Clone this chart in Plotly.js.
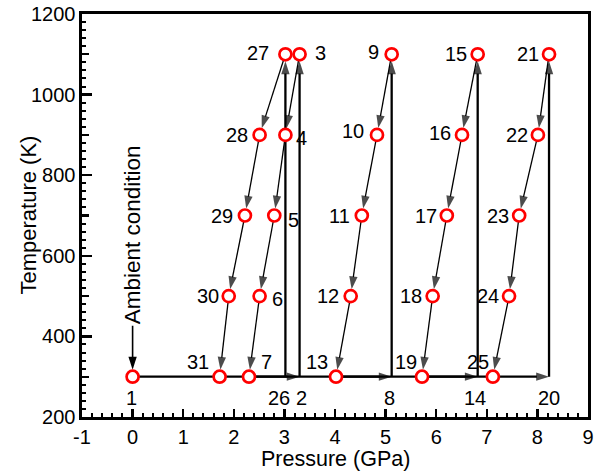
<!DOCTYPE html>
<html><head><meta charset="utf-8">
<script src="https://cdn.plot.ly/plotly-3.0.1.min.js"></script>
<style>html,body{margin:0;padding:0;background:#fff}</style>
</head><body><div id="chart" style="width:598px;height:472px"></div>
<script>
// ---- data ----
const pointIds = [1,2,3,4,5,6,7,8,9,10,11,12,13,14,15,16,17,18,19,20,21,22,23,24,25,26,27,28,29,30,31];
const pressure = [0.00,3.30,3.30,3.02,2.80,2.51,2.30,5.12,5.12,4.83,4.53,4.31,4.02,6.82,6.82,6.51,6.21,5.93,5.72,8.23,8.23,8.01,7.64,7.44,7.12,3.02,3.02,2.51,2.22,1.90,1.72];
const temperature = [300,300,1100,900,700,500,300,300,1100,900,700,500,300,300,1100,900,700,500,300,300,1100,900,700,500,300,300,1100,900,700,500,300];
const circledPoints = [1,3,4,5,6,7,9,10,11,12,13,15,16,17,18,19,21,22,23,24,25,27,28,29,30,31];
const isobaricSteps = [[1,2],[7,8],[13,14],[19,20]];
const heatingSteps = [[2,3],[8,9],[14,15],[20,21],[26,27]];
const coolingSteps = [[3,4],[4,5],[5,6],[6,7],[9,10],[10,11],[11,12],[12,13],[15,16],[16,17],[17,18],[18,19],[21,22],[22,23],[23,24],[24,25],[27,28],[28,29],[29,30],[30,31]];
const xTickVals = [-1,0,1,2,3,4,5,6,7,8,9];
const xTickLabels = ["-1","0","1","2","3","4","5","6","7","8","9"];
const yTickVals = [200,400,600,800,1000,1200];
const yTickLabels = ["200","400","600","800","1000","1200"];
const annotationText = "Ambient condition";
const xTitle = "Pressure (GPa)";
const yTitle = "Temperature (K)";

// ---- styles ----
const FONT = "Liberation Sans, Arial, Helvetica, sans-serif";
const CIRCLE_R = 7;
// label offsets in px [dx, dy(up)] per point id
const labelOffsets = {
 1:[-1,-21],2:[2,-21],3:[21,1],4:[16,-3],5:[19,-4],6:[18,-3],7:[18,15],
 8:[-2,-21],9:[-18,2],10:[-24,4],11:[-22,0],12:[-23,0],13:[-19,15],
 14:[-3,-21],15:[-22,0],16:[-22,2],17:[-21,0],18:[-22,0],19:[-16,15],
 20:[0,-21],21:[-21,0],22:[-21,0],23:[-21,0],24:[-21,0],25:[-15,15],
 26:[-6,-21],27:[-27,1],28:[-23,0],29:[-23,0],30:[-21,0],31:[-22,15]
};

const idx = id => pointIds.indexOf(id);
const traces = [];
function addSteps(steps, width) {
  steps.forEach(([a,b]) => {
    const ia = idx(a), ib = idx(b);
    const endCircled = circledPoints.includes(b);
    traces.push({
      type:'scatter', mode:'lines+markers',
      x:[pressure[ia], pressure[ib]], y:[temperature[ia], temperature[ib]],
      line:{color:'#000', width:width},
      marker:{symbol:'arrow', angleref:'previous', size:[0,13.5], color:'#000',
              line:{width:0}, standoff:[0, endCircled ? CIRCLE_R : 0]},
      hoverinfo:'skip', showlegend:false, cliponaxis:false
    });
  });
}
addSteps(isobaricSteps, 2.3);
addSteps(heatingSteps, 2.3);
addSteps(coolingSteps, 1.3);

// arrowhead for the "Ambient condition" pointer
traces.push({
  type:'scatter', mode:'markers',
  x:[pressure[0]], y:[temperature[0]],
  marker:{symbol:'arrow', angle:180, size:13.5, color:'#000', line:{width:0}, standoff:CIRCLE_R},
  hoverinfo:'skip', showlegend:false, cliponaxis:false
});

// circles
const cx = [], cy = [];
circledPoints.forEach(id => { cx.push(pressure[idx(id)]); cy.push(temperature[idx(id)]); });
traces.push({
  type:'scatter', mode:'markers', x:cx, y:cy,
  marker:{symbol:'circle', size:12, color:'#fff', line:{color:'#ff0000', width:2.7}},
  hoverinfo:'skip', showlegend:false, cliponaxis:false
});

// invisible trace to activate the medium-tick axis
traces.push({type:'scatter', mode:'markers', x:[pressure[0]], y:[temperature[0]], yaxis:'y2',
  marker:{opacity:0}, hoverinfo:'skip', showlegend:false});

const annotations = pointIds.map(id => ({
  x: pressure[idx(id)], y: temperature[idx(id)], text: String(id), showarrow:false,
  xshift: labelOffsets[id][0], yshift: labelOffsets[id][1],
  font:{family:FONT, size:20, color:'#000'}
}));
annotations.push({
  x: pressure[0], y: temperature[0], text: annotationText, textangle:-90,
  showarrow:true, arrowhead:0, arrowwidth:1.6, arrowcolor:'#000', ax:0, ay:-142,
  standoff:12, font:{family:FONT, size:22.5, color:'#000'}
});
// axis titles
annotations.push({
  xref:'paper', yref:'paper', x:0.5, y:0, xanchor:'center', yanchor:'top',
  yshift:-29, borderpad:0, text:xTitle, showarrow:false, font:{family:FONT, size:21.5, color:'#000'}
});
annotations.push({
  xref:'paper', yref:'paper', x:0, y:0.5, xanchor:'center', yanchor:'middle',
  xshift:-54, textangle:-90, text:yTitle, showarrow:false, font:{family:FONT, size:22, color:'#000'}
});

const axisCommon = {
  showgrid:false, zeroline:false, showline:true, linewidth:2.6, linecolor:'#000',
  mirror:true, ticks:'inside', tickwidth:2.4, tickcolor:'#000',
  tickfont:{family:FONT, size:20, color:'#000'}
};

const layout = {
  width:598, height:472,
  margin:{l:82, r:10, t:14, b:55},
  paper_bgcolor:'#fff', plot_bgcolor:'#fff',
  showlegend:false,
  xaxis: Object.assign({}, axisCommon, {
    range:[-1,9], tickmode:'array', tickvals:xTickVals, ticktext:xTickLabels, ticklen:8,
    minor:{dtick:0.2, tick0:-1, ticks:'inside', ticklen:4, tickwidth:2, tickcolor:'#000', showgrid:false}
  }),
  yaxis: Object.assign({}, axisCommon, {
    range:[200,1200], tickmode:'array', tickvals:yTickVals, ticktext:yTickLabels, ticklen:10,
    minor:{dtick:20, tick0:200, ticks:'inside', ticklen:4, tickwidth:2, tickcolor:'#000', showgrid:false}
  }),
  yaxis2: {
    overlaying:'y', side:'left', anchor:'x', range:[200,1200], tick0:200, dtick:100,
    ticks:'inside', ticklen:7, tickwidth:2.2, tickcolor:'#000', showticklabels:false,
    showline:false, showgrid:false, zeroline:false
  },
  annotations: annotations
};

Plotly.newPlot('chart', traces, layout, {staticPlot:true, displayModeBar:false});
</script>
</body></html>
